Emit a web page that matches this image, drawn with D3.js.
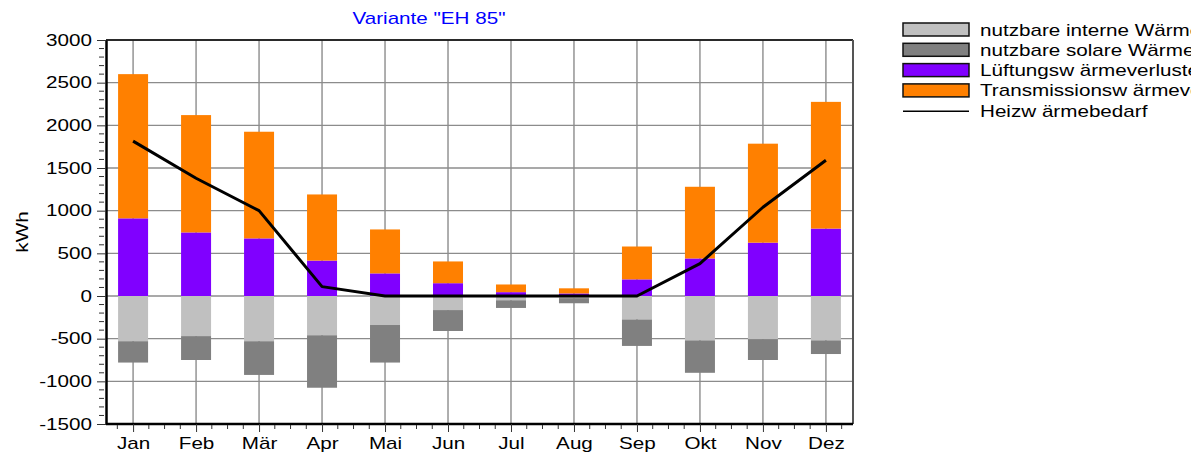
<!DOCTYPE html>
<html>
<head>
<meta charset="utf-8">
<script src="https://cdn.jsdelivr.net/npm/d3@7"></script>
<style>
  body { margin: 0; background: #fff; }
  svg { display: block; font-family: "Liberation Sans", Arial, sans-serif; }
</style>
</head>
<body>
<svg id="chart" width="1191" height="453"></svg>
<script>
// categories
var months = ["Jan", "Feb", "Mär", "Apr", "Mai", "Jun", "Jul", "Aug", "Sep", "Okt", "Nov", "Dez"];

// gains (negative, below zero)
var interneGewinne = [-530, -470, -530, -460, -340, -165, -50, -25, -275, -520, -505, -520];
var solareGewinne  = [-250, -280, -395, -615, -440, -245, -90, -60, -310, -380, -245, -160];

// losses (positive, above zero)
var lueftungsVerluste     = [910, 745, 675, 415, 265, 150, 45, 30, 195, 440, 625, 790];
var transmissionsVerluste = [1690, 1375, 1250, 775, 515, 255, 90, 60, 385, 840, 1160, 1485];

// line
var heizwaermebedarf = [1815, 1380, 1000, 110, 0, 0, 0, 0, 0, 380, 1040, 1590];

var yTicks = [-1500, -1000, -500, 0, 500, 1000, 1500, 2000, 2500, 3000];

var legendNames = [
    "nutzbare interne Wärmegewinne",
    "nutzbare solare Wärmegewinne",
    "Lüftungsw ärmeverluste",
    "Transmissionsw ärmeverluste",
    "Heizw ärmebedarf"
];
var colors = ["#c0c0c0", "#808080", "#8000ff", "#ff8000"];

var svg = d3.select("#chart");
var margin = { top: 40, right: 338, bottom: 29, left: 106 };
var width = 1191 - margin.left - margin.right;
var height = 453 - margin.top - margin.bottom;
var SX = 1.29; // the fonts in the picture are stretched sideways

function stretch(sel) {
    sel.each(function () {
        var t = d3.select(this);
        var tx = +t.attr("x") || 0, ty = +t.attr("y") || 0;
        t.attr("x", 0).attr("y", 0)
            .attr("transform", "translate(" + tx + "," + ty + ") scale(" + SX + ",1)");
    });
}

var x = d3.scalePoint().domain(months).range([0, width]).padding(0.43);
var y = d3.scaleLinear().domain([-1500, 3000]).range([height, 0]);
var step = x.step();
var barW = 30;

var g = svg.append("g").attr("transform", "translate(" + margin.left + "," + margin.top + ")");

// gridlines
g.append("g").selectAll("line.h").data(yTicks).enter().append("line")
    .attr("x1", 0).attr("x2", width)
    .attr("y1", function (d) { return y(d); }).attr("y2", function (d) { return y(d); })
    .attr("stroke", "#8c8c8c").attr("stroke-width", 1.4);
g.append("g").selectAll("line.v").data(months).enter().append("line")
    .attr("x1", function (d) { return x(d); }).attr("x2", function (d) { return x(d); })
    .attr("y1", 0).attr("y2", height)
    .attr("stroke", "#8c8c8c").attr("stroke-width", 1.4);

// stacked bars
var rows = months.map(function (m, i) {
    return {
        m: m,
        segs: [
            { y0: 0, y1: interneGewinne[i], c: colors[0] },
            { y0: interneGewinne[i], y1: interneGewinne[i] + solareGewinne[i], c: colors[1] },
            { y0: 0, y1: lueftungsVerluste[i], c: colors[2] },
            { y0: lueftungsVerluste[i], y1: lueftungsVerluste[i] + transmissionsVerluste[i], c: colors[3] }
        ]
    };
});

g.append("g").selectAll("g").data(rows).enter().append("g")
    .selectAll("rect").data(function (d) { return d.segs.map(function (s) { s.m = d.m; return s; }); })
    .enter().append("rect")
    .attr("x", function (d) { return x(d.m) - barW / 2; })
    .attr("width", barW)
    .attr("y", function (d) { return y(Math.max(d.y0, d.y1)); })
    .attr("height", function (d) { return Math.abs(y(d.y0) - y(d.y1)); })
    .attr("fill", function (d) { return d.c; });

// Heizwärmebedarf line
var valueline = d3.line()
    .x(function (d, i) { return x(months[i]); })
    .y(function (d) { return y(d); });
g.append("path")
    .datum(heizwaermebedarf)
    .attr("fill", "none").attr("stroke", "#000").attr("stroke-width", 3)
    .attr("stroke-linejoin", "round")
    .attr("d", valueline);

// top and right frame
g.append("line").attr("x1", 0).attr("x2", width).attr("y1", 0).attr("y2", 0)
    .attr("stroke", "#000").attr("stroke-width", 1.5);
g.append("line").attr("x1", width).attr("x2", width).attr("y1", 0).attr("y2", height)
    .attr("stroke", "#555").attr("stroke-width", 2);

// Add the Y Axis
var yAxis = g.append("g")
    .call(d3.axisLeft(y).tickValues(yTicks).tickSize(9).tickSizeOuter(0).tickPadding(5)
        .tickFormat(function (d) { return String(d); }));
yAxis.select(".domain").attr("stroke", "#000").attr("stroke-width", 2.5);
yAxis.selectAll(".tick line").attr("stroke", "#333");
yAxis.selectAll(".tick text").attr("font-size", 16).attr("fill", "#000")
    .attr("font-family", "Liberation Sans, Arial, sans-serif").call(stretch);

// minor y ticks
g.append("g").selectAll("line").data(d3.range(-1500, 3001, 100).filter(function (v) { return v % 500 !== 0; }))
    .enter().append("line")
    .attr("x1", -7).attr("x2", -2)
    .attr("y1", function (d) { return y(d); }).attr("y2", function (d) { return y(d); })
    .attr("stroke", "#333");

// Add the X Axis
var xAxis = g.append("g").attr("transform", "translate(0," + height + ")")
    .call(d3.axisBottom(x).tickSize(8).tickSizeOuter(0).tickPadding(5.5));
xAxis.select(".domain").attr("stroke", "#000").attr("stroke-width", 2.5)
    .attr("d", "M0,0H" + width);
xAxis.selectAll(".tick line").attr("stroke", "#333");
xAxis.selectAll(".tick text").attr("font-size", 16).attr("fill", "#000")
    .attr("font-family", "Liberation Sans, Arial, sans-serif").call(stretch);

// minor x ticks, quarter steps
var minorX = d3.range(-1, 48).filter(function (k) { return k % 4 !== 0; })
    .map(function (k) { return x(months[0]) + (k / 4) * step; })
    .filter(function (p) { return p > 2 && p < width - 2; });
g.append("g").selectAll("line").data(minorX).enter().append("line")
    .attr("x1", function (d) { return d; }).attr("x2", function (d) { return d; })
    .attr("y1", height + 1).attr("y2", height + 5)
    .attr("stroke", "#333");

// y axis label
svg.append("text")
    .attr("transform", "translate(28," + (margin.top + height / 2) + ") rotate(-90) scale(" + SX + ",1)")
    .attr("text-anchor", "middle")
    .attr("font-size", 16)
    .text("kWh");

// title
svg.append("text")
    .attr("x", 429).attr("y", 24)
    .attr("text-anchor", "middle")
    .attr("font-size", 16)
    .attr("fill", "#0000ff")
    .text('Variante "EH 85"')
    .call(stretch);

// legend
var legend = svg.append("g").attr("transform", "translate(903,23)");
var items = legend.selectAll("g").data(legendNames).enter().append("g")
    .attr("transform", function (d, i) { return "translate(0," + (i * 20.3) + ")"; });
items.filter(function (d, i) { return i < 4; }).append("rect")
    .attr("width", 66).attr("height", 13)
    .attr("fill", function (d, i) { return colors[i]; })
    .attr("stroke", "#111").attr("stroke-width", 1.5);
items.filter(function (d, i) { return i === 4; }).append("line")
    .attr("x1", 0).attr("x2", 66).attr("y1", 7).attr("y2", 7)
    .attr("stroke", "#000").attr("stroke-width", 1.5);
items.append("text")
    .attr("x", 77).attr("y", 12.5)
    .attr("font-size", 16)
    .text(function (d) { return d; })
    .call(stretch);
</script>
</body>
</html>
